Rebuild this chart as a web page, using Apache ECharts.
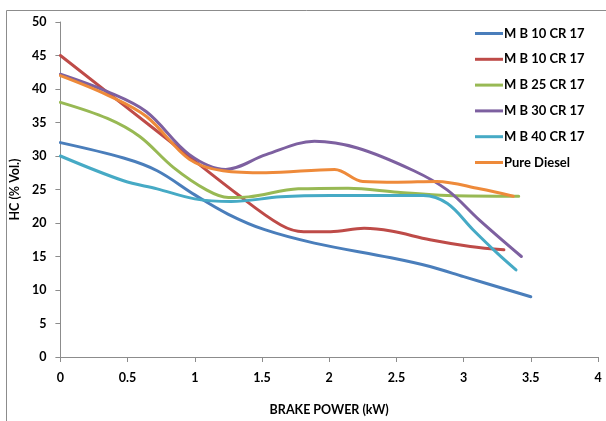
<!DOCTYPE html>
<html>
<head>
<meta charset="utf-8">
<script src="https://cdn.jsdelivr.net/npm/echarts@6/dist/echarts.min.js"></script>
<style>
  html, body { margin: 0; padding: 0; background: #fff; }
  #chart { width: 606px; height: 421px; }
</style>
</head>
<body>
<div id="chart"></div>
<script>
// Series names
const seriesNames = ["M B 10 CR 17", "M B 10 CR 17", "M B 25 CR 17", "M B 30 CR 17", "M B 40 CR 17", "Pure Diesel"];

// Values: [brake power (kW), HC (% Vol.)]
const mb10aData = [[0,32],[0.47,29.7],[0.72,27.8],[1.0,24.2],[1.25,21.3],[1.52,19.0],[1.89,17.0],[2.46,14.8],[2.75,13.5],[3.0,12.0],[3.5,9]];
const mb10bData = [[0,45],[0.72,33.7],[1.31,24.4],[1.64,19.7],[1.81,18.7],[2.01,18.7],[2.26,19.2],[2.46,18.8],[2.75,17.5],[3.05,16.5],[3.3,16.0]];
const mb25Data  = [[0,38],[0.35,35.6],[0.59,32.9],[0.84,28.3],[1.09,24.9],[1.25,23.8],[1.40,23.9],[1.77,25.1],[2.14,25.2],[2.51,24.6],[2.88,24.1],[3.41,24.0]];
const mb30Data  = [[0,42.2],[0.35,39.6],[0.64,36.6],[0.96,30.2],[1.23,28.0],[1.53,30.2],[1.89,32.2],[2.21,31.2],[2.63,27.8],[2.88,24.9],[3.12,20.4],[3.43,15]];
const mb40Data  = [[0,30],[0.47,26.3],[0.72,25.1],[1.0,23.6],[1.27,23.2],[1.64,23.9],[2.01,24.1],[2.51,24.1],[2.70,24.1],[2.88,22.9],[3.07,19.0],[3.25,15.5],[3.39,13]];
const dieselData = [[0,42],[0.35,39.1],[0.64,35.9],[0.96,29.5],[1.21,27.8],[1.53,27.5],[2.04,28.0],[2.25,26.2],[2.51,26.1],[2.8,26.2],[3.12,25.1],[3.37,24]];

const seriesData = [mb10aData, mb10bData, mb25Data, mb30Data, mb40Data, dieselData];
const colors = ["#4A7EBB", "#BE4B48", "#98B954", "#7D60A0", "#46AAC5", "#EE8A3A"];

// Axis settings
const xMin = 0, xMax = 4, xStep = 0.5;
const yMin = 0, yMax = 50, yStep = 5;
const xTitle = "BRAKE POWER (kW)";
const yTitle = "HC (% Vol.)";

const font = "Lato, 'Open Sans', 'Liberation Sans', sans-serif";
const chart = echarts.init(document.getElementById('chart'), null, { renderer: 'canvas' });

const option = {
  backgroundColor: '#ffffff',
  animation: false,
  graphic: [{
    type: 'rect',
    shape: { x: 6.5, y: 10.5, width: 640, height: 440 },
    style: { fill: 'none', stroke: '#8c8c8c', lineWidth: 1 },
    silent: true, z: -1
  }],
  grid: { left: 58, right: 8, top: 22, bottom: 59, containLabel: false },
  legend: {
    orient: 'vertical',
    left: 475, top: 27,
    padding: 0,
    icon: 'rect',
    itemWidth: 28, itemHeight: 3, itemGap: 12.8,
    data: seriesNames.map((n, i) => ({ name: n + '\u200b'.repeat(i) })),
    textStyle: { fontFamily: font, fontWeight: 'bold', fontSize: 13, color: '#000', padding: [0,0,0,-4], height: 12, lineHeight: 12 }
  },
  xAxis: {
    type: 'value', min: xMin, max: xMax, interval: xStep,
    name: xTitle, nameLocation: 'middle', nameGap: 46,
    nameTextStyle: { fontFamily: font, fontWeight: 'bold', fontSize: 12.5, color: '#000' },
    axisLine: { show: true, lineStyle: { color: '#8c8c8c', width: 1 } },
    axisTick: { show: true, length: 5, lineStyle: { color: '#8c8c8c' } },
    splitLine: { show: false },
    axisLabel: { fontFamily: font, fontWeight: 'bold', fontSize: 12.5, color: '#000', margin: 14 }
  },
  yAxis: {
    type: 'value', min: yMin, max: yMax, interval: yStep,
    name: yTitle, nameLocation: 'middle', nameGap: 35, nameRotate: 90,
    nameTextStyle: { fontFamily: font, fontWeight: 'bold', fontSize: 12.5, color: '#000' },
    axisLine: { show: true, lineStyle: { color: '#8c8c8c', width: 1 } },
    axisTick: { show: true, length: 5, lineStyle: { color: '#8c8c8c' } },
    splitLine: { show: false },
    axisLabel: { fontFamily: font, fontWeight: 'bold', fontSize: 12.5, color: '#000', margin: 14 }
  },
  series: seriesData.map((d, i) => ({
    name: seriesNames[i] + '\u200b'.repeat(i),
    type: 'line',
    data: d,
    smooth: 0.35,
    symbol: 'none',
    color: colors[i],
    lineStyle: { width: 3, color: colors[i], cap: 'round' }
  }))
};
chart.setOption(option);
</script>
</body>
</html>
